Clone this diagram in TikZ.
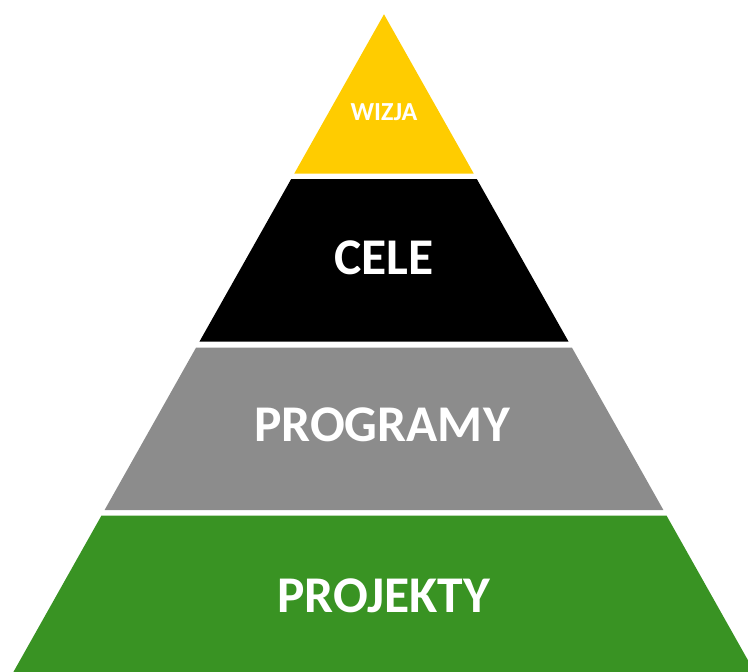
\documentclass[tikz,border=0pt]{standalone}
\usepackage{fontspec}
\setmainfont{Carlito}
\definecolor{pyYellow}{RGB}{255,204,0}
\definecolor{pyGray}{RGB}{140,140,140}
\definecolor{pyGreen}{RGB}{57,147,35}
\begin{document}
\begin{tikzpicture}[x=1pt,y=-1pt,
  lbl/.style={text=white,font=\bfseries,anchor=base,inner sep=0pt},
  big/.style={lbl,font=\fontsize{51.5}{52}\selectfont\bfseries}]
\useasboundingbox (0,0) rectangle (748,672);
\clip (0,0) rectangle (748,672);
% layers: apex (384,14.3), half-width slope 0.5637
\fill[pyYellow] (384,14.3) -- (473.7,173.5) -- (294.3,173.5) -- cycle;
\fill[black] (291.2,179) -- (476.8,179) -- (568.6,341.7) -- (199.4,341.7) -- cycle;
\fill[pyGray] (196,347.7) -- (572,347.7) -- (663.4,510) -- (104.6,510) -- cycle;
\fill[pyGreen] (101.4,515.7) -- (666.6,515.7) -- (754.6,672) -- (13.4,672) -- cycle;
\node[lbl,font=\fontsize{26}{26}\selectfont\bfseries] (wizja) at (384,120.5) {WIZJA};
\node[big] (cele) at (384,274.3) {CELE};
\node[big] (programy) at (382,441.7) {PROGRAMY};
\node[big] (projekty) at (383.5,612.3) {PROJEKTY};
\end{tikzpicture}
\end{document}
